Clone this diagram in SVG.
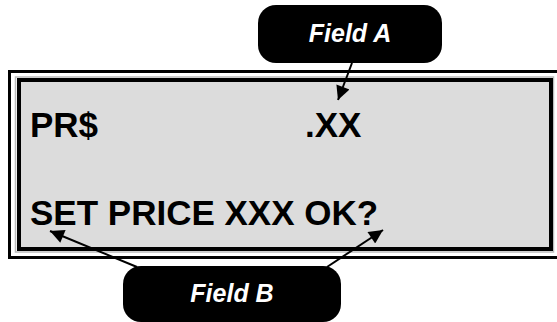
<svg xmlns="http://www.w3.org/2000/svg" width="557" height="322" viewBox="0 0 557 322">
<style>
.lcd{font-family:"Liberation Sans",Arial,sans-serif;font-weight:bold;font-size:35px;fill:#000}
.lbl{font-family:"Liberation Sans",Arial,sans-serif;font-weight:bold;font-style:italic;font-size:25px;fill:#fff;text-anchor:middle}
.box{fill:#000}
.conn{stroke:#000;stroke-width:2;fill:none;marker-end:url(#ah)}
</style>
<defs>
<marker id="ah" viewBox="0 0 10 10" refX="10" refY="5" markerWidth="8.5" markerHeight="7" markerUnits="strokeWidth" orient="auto">
<path d="M0,0 L10,5 L0,10 z" fill="#000"/>
</marker>
</defs>
<rect width="557" height="322" fill="#fff"/>
<g id="display">
<rect x="9.5" y="71.5" width="560" height="186" fill="none" stroke="#000" stroke-width="3"/>
<rect x="15.5" y="77" width="538" height="175" fill="none" stroke="#bbb" stroke-width="1.5"/>
<rect x="19" y="80" width="532" height="169" fill="#dcdcdc" stroke="#000" stroke-width="4"/>
<text class="lcd" x="30" y="137">PR$</text>
<text class="lcd" x="305" y="137">.XX</text>
<text class="lcd" x="30" y="225">SET PRICE XXX OK?</text>
</g>
<g id="fieldA">
<rect class="box" x="258" y="5" width="184" height="58" rx="18"/>
<text class="lbl" x="350" y="42">Field A</text>
</g>
<g id="fieldB">
<rect class="box" x="123" y="266" width="218" height="56" rx="18"/>
<text class="lbl" x="232" y="302">Field B</text>
</g>
<g id="connectors">
<line class="conn" x1="352" y1="63" x2="338" y2="100"/>
<line class="conn" x1="137" y1="267" x2="50" y2="231"/>
<line class="conn" x1="327" y1="267" x2="383" y2="230"/>
</g>
</svg>
